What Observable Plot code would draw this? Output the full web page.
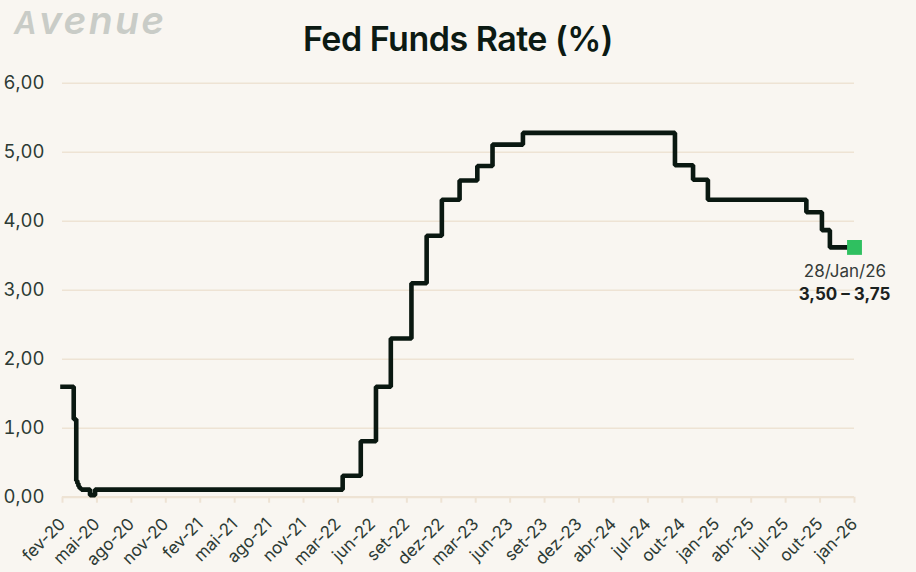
<!DOCTYPE html>
<html>
<head>
<meta charset="utf-8">
<script src="https://cdn.jsdelivr.net/npm/d3@7"></script>
<script src="https://cdn.jsdelivr.net/npm/@observablehq/plot@0.6"></script>
<style>
  html, body { margin: 0; padding: 0; background: #f9f6f1; }
  #wrap { position: relative; width: 916px; height: 572px; overflow: hidden; background: #f9f6f1; }
  #header { position: relative; width: 916px; height: 70px; }
  #logo { position: absolute; left: 0; top: 0; }
  #title { position: absolute; left: 0; width: 916px; top: 22px; text-align: center; font-family: Inter, sans-serif;
           font-weight: 600; font-size: 34px; line-height: 34px; color: #0c1a13; letter-spacing: -0.5px; }
  #chart svg { display: block; }
</style>
</head>
<body>
<div id="wrap">
  <div id="header">
    <svg id="logo" width="200" height="44">
      <text x="14" y="33.7" font-family="Inter, sans-serif" font-weight="600" font-style="italic"
            font-size="39" letter-spacing="2.4" fill="#c9ccc7"><tspan font-size="31">A</tspan>venue</text>
    </svg>
    <div id="title">Fed Funds Rate (%)</div>
  </div>
  <div id="chart"></div>
</div>
<script>
// ---- data ----
const tickLabels = ["fev-20","mai-20","ago-20","nov-20","fev-21","mai-21","ago-21","nov-21",
  "mar-22","jun-22","set-22","dez-22","mar-23","jun-23","set-23","dez-23",
  "abr-24","jul-24","out-24","jan-25","abr-25","jul-25","out-25","jan-26"];
const axisStart = "2020-02-01";
const axisEnd = "2026-01-28";

const yTicks = [0, 1, 2, 3, 4, 5, 6];
const yTickLabels = ["0,00","1,00","2,00","3,00","4,00","5,00","6,00"];

const changeDates = [
  "2020-02-01","2020-03-03","2020-03-10","2020-03-13","2020-03-16","2020-03-19","2020-03-24",
  "2020-04-17","2020-05-01",
  "2022-03-16","2022-05-05","2022-06-16","2022-07-27","2022-09-22","2022-11-03","2022-12-15",
  "2023-02-02","2023-03-23","2023-05-04","2023-07-27",
  "2024-09-19","2024-11-08","2024-12-19",
  "2025-09-17","2025-10-30","2025-11-21","2026-01-28"
];
const rateValues = [
  1.60, 1.13, 0.24, 0.20, 0.16, 0.13, 0.11,
  0.03, 0.11,
  0.31, 0.81, 1.60, 2.30, 3.10, 3.79, 4.31,
  4.59, 4.80, 5.11, 5.28,
  4.81, 4.60, 4.31,
  4.13, 3.87, 3.62, 3.62
];

const annotationDate = "28/Jan/26";
const annotationRange = "3,50 – 3,75";

// ---- build ----
const rows = changeDates.map((d, i) => ({date: new Date(d), value: rateValues[i]}));
const last = rows[rows.length - 1];
const t0 = +new Date(axisStart), t1 = +new Date(axisEnd);
const tickDates = tickLabels.map((_, i) => new Date(t0 + i * (t1 - t0) / (tickLabels.length - 1)));
const tickRows = tickDates.map((d, i) => ({date: d, label: tickLabels[i]}));

const gridColor = "#eee3d4";
const textColor = "#2d3b35";

const chart = Plot.plot({
  width: 916,
  height: 502,
  marginLeft: 62,
  marginRight: 62,
  marginTop: 12.7,
  marginBottom: 75.3,
  style: {background: "transparent", fontFamily: "Inter, sans-serif", color: textColor},
  x: {type: "utc", domain: [new Date(axisStart), new Date(axisEnd)], label: null},
  y: {domain: [0, 6], label: null},
  marks: [
    Plot.ruleY(yTicks, {stroke: gridColor, strokeWidth: 1.6}),
    Plot.ruleY([0], {stroke: gridColor, strokeWidth: 2.2}),
    Plot.axisY({ticks: yTicks, tickSize: 0, tickPadding: 18, fontSize: 18.5, fill: textColor,
      tickFormat: d => yTickLabels[yTicks.indexOf(d)]}),
    Plot.axisX({ticks: tickDates, tickSize: 6, stroke: gridColor, strokeWidth: 2, tickFormat: () => ""}),
    Plot.text(tickRows, {x: "date", frameAnchor: "bottom", text: "label", rotate: -45,
      textAnchor: "end", lineAnchor: "middle", dy: 24, dx: 0, fontSize: 17, fill: textColor}),
    Plot.line(rows, {x: "date", y: "value", curve: "step-after", stroke: "#0a1811",
      strokeWidth: 4.6, strokeLinejoin: "miter", strokeLinecap: "square"}),
    Plot.dot([last], {x: "date", y: "value", symbol: "square", r: 8.4, fill: "#2fc060"}),
    Plot.text([last], {x: "date", y: "value", text: () => annotationDate, dx: -9.5, dy: 24.5,
      fontSize: 17, fill: "#353b38", lineAnchor: "middle"}),
    Plot.text([last], {x: "date", y: "value", text: () => annotationRange, dx: -10, dy: 47,
      fontSize: 17, fontWeight: 700, fill: "#1b211e", lineAnchor: "middle"})
  ]
});
document.getElementById("chart").appendChild(chart);
</script>
</body>
</html>
